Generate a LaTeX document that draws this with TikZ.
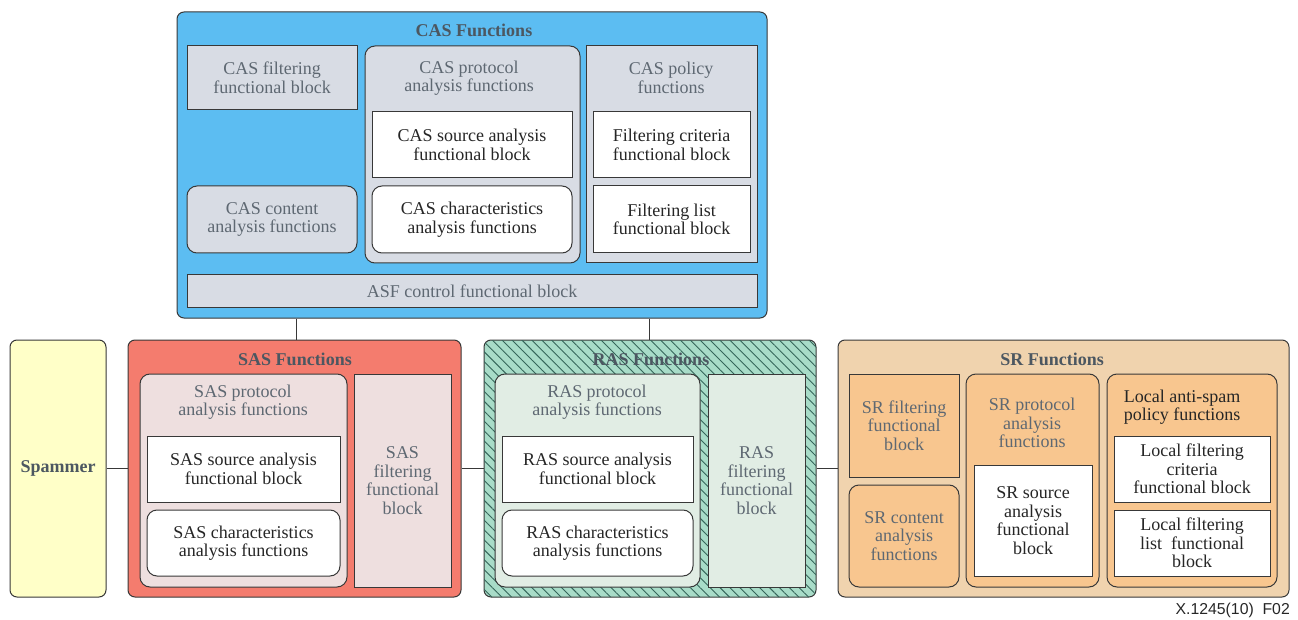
\documentclass[tikz,border=0pt]{standalone}
\usepackage{fontspec}
\setmainfont{Liberation Serif}
\newfontfamily\capfont{Liberation Sans}
\usetikzlibrary{patterns.meta}

\definecolor{casblue}{HTML}{5CBDF2}
\definecolor{casin}{HTML}{D8DCE4}
\definecolor{sasred}{HTML}{F47C6E}
\definecolor{sasin}{HTML}{EEDFDF}
\definecolor{rasgreen}{HTML}{A8DCC8}
\definecolor{rasin}{HTML}{E1EDE4}
\definecolor{srtan}{HTML}{F0D3AE}
\definecolor{srin}{HTML}{F8C68F}
\definecolor{spamfill}{HTML}{FFFFC8}
\definecolor{txtgray}{HTML}{5E6872}
\definecolor{ttlgray}{HTML}{4C5761}
\definecolor{edgecol}{HTML}{383838}
\definecolor{hatchcol}{HTML}{35665A}

% block spanning top-left (x1,y1) to bottom-right (x2,y2), in pixel units
\newcommand\fblock[7]{%
  \node[#2, anchor=center,
        minimum width={(#5-#3)*1pt}, minimum height={(#6-#4)*1pt}]
       (#1) at ({(#3+#5)/2},{(#4+#6)/2}) {#7};}

\begin{document}
\begin{tikzpicture}[x=1pt,y=-1pt,
  base/.style={draw=edgecol, line width=1pt, inner sep=0pt, align=center,
               font=\fontsize{18}{18.5}\selectfont},
  sq/.style={base},
  rd/.style={base, rounded corners=10pt},
  outer/.style={base, rounded corners=7pt},
  gtxt/.style={text=txtgray},
  ktxt/.style={text=black!85},
  title/.style={font=\fontsize{18}{19}\selectfont\bfseries, text=ttlgray},
  subtitle/.style={font=\fontsize{18}{18.5}\selectfont, align=center, text=txtgray},
  conn/.style={draw=edgecol, line width=1pt}]
\useasboundingbox (0,0) rectangle (1298,620);

% ---------- CAS ----------
\fblock{cas}{outer,fill=casblue}{177}{12}{767}{318}{}
\node[title] (castitle) at (474,30) {CAS Functions};
\fblock{casfilt}{sq,fill=casin,gtxt}{187}{46}{357}{110}{CAS filtering\\functional block}
\fblock{cascont}{rd,fill=casin,gtxt}{187}{186}{357}{253}{CAS content\\analysis functions}
\fblock{casprot}{rd,fill=casin}{365}{46}{580}{263}{}
\node[subtitle] (casprott) at (469,78) {CAS protocol\\analysis functions};
\fblock{cassrc}{sq,fill=white,ktxt}{372}{112}{572}{178}{CAS source analysis\\functional block}
\fblock{caschar}{rd,fill=white,ktxt}{372}{186}{572}{253}{CAS characteristics\\analysis functions}
\fblock{caspol}{sq,fill=casin}{586}{46}{757}{263}{}
\node[subtitle] (caspolt) at (671,78) {CAS policy\\functions};
\fblock{filtcrit}{sq,fill=white,ktxt}{593}{112}{750}{178}{Filtering criteria\\functional block}
\fblock{filtlist}{sq,fill=white,ktxt}{593}{186}{750}{253}{Filtering list\\functional block}
\fblock{asf}{sq,fill=casin,gtxt}{187}{275}{757}{307}{ASF control functional block}

% ---------- Spammer ----------
\fblock{spammer}{outer,fill=spamfill,text=ttlgray,font=\fontsize{18}{19}\selectfont\bfseries}{10}{340}{106}{597}{Spammer}

% ---------- SAS ----------
\fblock{sas}{outer,fill=sasred}{128}{340}{461}{597}{}
\node[title] (sastitle) at (295,359) {SAS Functions};
\fblock{sasprot}{rd,fill=sasin}{140}{374}{347}{587}{}
\node[subtitle] (sasprott) at (243,402) {SAS protocol\\analysis functions};
\fblock{sassrc}{sq,fill=white,ktxt}{147}{436}{340}{502}{SAS source analysis\\functional block}
\fblock{saschar}{rd,fill=white,ktxt}{147}{510}{340}{576}{SAS characteristics\\analysis functions}
\fblock{sasfilt}{sq,fill=sasin,gtxt}{354}{374}{451}{587}{SAS\\filtering\\functional\\block}

% ---------- RAS (hatched) ----------
\fblock{ras}{outer,fill=rasgreen,
  postaction={pattern={Lines[angle=-45,distance=7pt,line width=0.9pt]},pattern color=hatchcol}}{484}{340}{816}{597}{}
\node[title] (rastitle) at (651,359) {RAS Functions};
\fblock{rasprot}{rd,fill=rasin}{495}{374}{700}{587}{}
\node[subtitle] (rasprott) at (597,402) {RAS protocol\\analysis functions};
\fblock{rassrc}{sq,fill=white,ktxt}{502}{436}{693}{502}{RAS source analysis\\functional block}
\fblock{raschar}{rd,fill=white,ktxt}{502}{510}{693}{576}{RAS characteristics\\analysis functions}
\fblock{rasfilt}{sq,fill=rasin,gtxt}{708}{374}{805}{587}{RAS\\filtering\\functional\\block}

% ---------- SR ----------
\fblock{sr}{outer,fill=srtan}{838}{340}{1289}{597}{}
\node[title] (srtitle) at (1052,359) {SR Functions};
\fblock{srfilt}{sq,fill=srin,gtxt}{849}{374}{959}{477}{SR filtering\\functional\\block}
\fblock{srcont}{rd,fill=srin,gtxt}{849}{485}{959}{587}{SR content\\analysis\\functions}
\fblock{srprot}{rd,fill=srin}{966}{374}{1099}{587}{}
\node[subtitle] (srprott) at (1032,423) {SR protocol\\analysis\\functions};
\fblock{srsrc}{sq,fill=white,ktxt}{974}{465}{1092}{576}{SR source\\analysis\\functional\\block}
\fblock{srpol}{rd,fill=srin}{1107}{374}{1277}{587}{}
\node[subtitle,text=black!85] (srpolt) at (1182,407) {Local anti-spam\\policy functions};
\fblock{lfcrit}{sq,fill=white,ktxt}{1114}{436}{1270}{502}{Local filtering\\criteria\\functional block}
\fblock{lflist}{sq,fill=white,ktxt}{1114}{510}{1270}{576}{Local filtering\\list\ \ functional\\block}

% ---------- connectors ----------
\coordinate (ca) at (296,0);
\coordinate (cb) at (649,0);
\draw[conn] (cas.south -| ca) -- (sas.north -| ca);
\draw[conn] (cas.south -| cb) -- (ras.north -| cb);
\draw[conn] (spammer.east) -- (sas.west);
\draw[conn] (sas.east) -- (ras.west);
\draw[conn] (ras.east) -- (sr.west);

% ---------- figure tag ----------
\node[anchor=east, inner sep=0pt, font=\capfont\fontsize{15.8}{17}\selectfont, text=black!85] (tag) at (1290,610) {X.1245(10)\ \ F02};
\end{tikzpicture}
\end{document}
